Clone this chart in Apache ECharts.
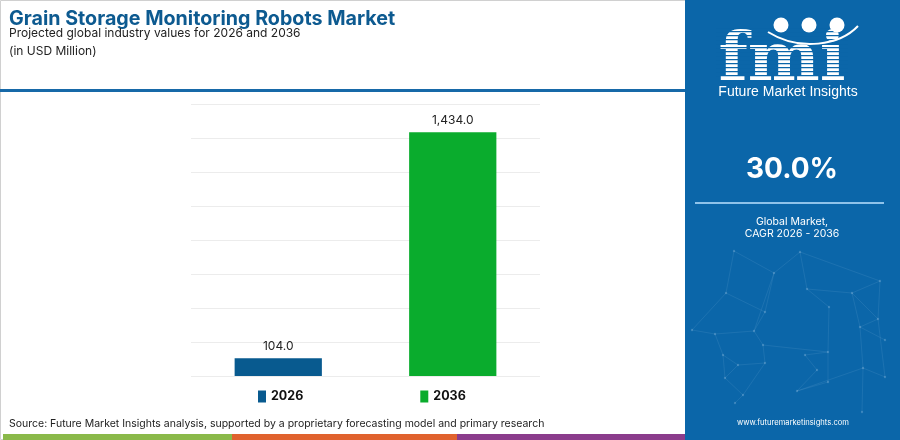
<!DOCTYPE html>
<html>
<head>
<meta charset="utf-8">
<script src="https://cdn.jsdelivr.net/npm/echarts@6/dist/echarts.min.js"></script>
<style>html,body{margin:0;padding:0;background:#fff}#c{width:900px;height:440px}</style>
</head>
<body>
<div id="c"></div>
<script>
const categories = ['2026', '2036'];
const values2026 = [104.0, '-'];
const values2036 = ['-', 1434.0];
const seriesNames = ['2026', '2036'];
const yTicks = {min: 0, max: 1600, interval: 200};

const FONT = 'Inter, "Noto Sans", sans-serif';
const PANEL = '#0b66a9';

const chart = echarts.init(document.getElementById('c'), null, {renderer: 'canvas'});

// decorative logo stripes
const stripes = [];
for (let y = 27; y < 78; y += 4) {
  stripes.push({type: 'rect', shape: {x: 716, y: y, width: 132, height: 1.3}, style: {fill: PANEL}, z: 12});
}
// decorative faint network in panel background
const netNodes = [[734,251],[800,252],[774,273],[880,281],[726,293],[807,289],[852,293],[765,312],[829,307],[878,319],
  [692,330],[715,334],[754,331],[860,327],[885,340],[763,345],[828,352],[723,355],[805,355],[738,365],[765,363],
  [863,368],[817,370],[725,378],[828,382],[885,377],[743,395],[797,391],[735,403],[862,412]];
const netEdges = [[0,4],[0,2],[1,2],[1,3],[2,7],[1,5],[5,6],[6,3],[4,7],[7,12],[2,12],[5,8],[8,16],[6,9],[9,13],[13,14],
  [10,11],[11,12],[12,15],[15,16],[11,17],[17,19],[19,20],[20,15],[18,16],[18,22],[16,24],[13,21],[21,27],[21,25],
  [17,23],[23,26],[26,28],[20,26],[22,27],[24,27],[9,25],[4,10],[3,9],[6,13],[19,23],[29,21]];
const net = netEdges.map(([a, b]) => ({type: 'line', shape: {x1: netNodes[a][0], y1: netNodes[a][1], x2: netNodes[b][0], y2: netNodes[b][1]},
  style: {stroke: 'rgba(170,210,240,0.14)', lineWidth: 0.8}, z: 11}));
const netDots = netNodes.map(([x, y]) => ({type: 'circle', shape: {cx: x, cy: y, r: 1.2}, style: {fill: 'rgba(190,220,245,0.25)'}, z: 11}));

chart.setOption({
  animation: false,
  grid: {left: 191, right: 360, top: 104, bottom: 64},
  xAxis: {
    type: 'category', data: categories,
    axisLine: {show: false}, axisTick: {show: false}, axisLabel: {show: false}
  },
  yAxis: {
    type: 'value', min: yTicks.min, max: yTicks.max, interval: yTicks.interval,
    axisLabel: {show: false}, axisLine: {show: false}, axisTick: {show: false},
    splitLine: {lineStyle: {color: '#ececec', width: 1}}
  },
  legend: {
    data: seriesNames, left: 258, top: 390, padding: 0, itemWidth: 8, itemHeight: 12, itemGap: 117,
    icon: 'rect',
    textStyle: {fontFamily: FONT, fontWeight: 'bold', fontSize: 12.5, color: '#111'}
  },
  series: [
    {
      name: seriesNames[0], type: 'bar', data: values2026, barWidth: '50%', barGap: '-100%',
      itemStyle: {color: '#085a8f'},
      label: {show: true, position: 'top', distance: 6, fontFamily: FONT, fontSize: 12, color: '#222',
        formatter: p => p.value.toLocaleString('en-US', {minimumFractionDigits: 1, maximumFractionDigits: 1})}
    },
    {
      name: seriesNames[1], type: 'bar', data: values2036, barWidth: '50%', barGap: '-100%',
      itemStyle: {color: '#0aac2d'},
      label: {show: true, position: 'top', distance: 6, fontFamily: FONT, fontSize: 12, color: '#222',
        formatter: p => p.value.toLocaleString('en-US', {minimumFractionDigits: 1, maximumFractionDigits: 1})}
    }
  ],
  graphic: [
    {type: 'rect', shape: {x: 0.5, y: 0.5, width: 685, height: 439}, style: {fill: 'none', stroke: '#d0d0d0', lineWidth: 1}, z: -1},
    {type: 'text', left: 9, top: 9, style: {text: 'Grain Storage Monitoring Robots Market', fontFamily: FONT, fontWeight: 'bold', fontSize: 19.7, fill: '#0d5a90'}},
    {type: 'text', left: 9, top: 27, style: {text: 'Projected global industry values for 2026 and 2036', fontFamily: FONT, fontSize: 12, fill: '#222'}},
    {type: 'text', left: 9, top: 45, style: {text: '(in USD Million)', fontFamily: FONT, fontSize: 12, fill: '#222'}},
    {type: 'rect', shape: {x: 0, y: 89, width: 686, height: 3}, style: {fill: '#1769a8'}},
    {type: 'text', left: 9, top: 418, style: {text: 'Source: Future Market Insights analysis, supported by a proprietary forecasting model and primary research', fontFamily: FONT, fontSize: 10.5, fill: '#222'}},
    {type: 'rect', shape: {x: 3, y: 434, width: 229, height: 6}, style: {fill: '#8ab94a'}},
    {type: 'rect', shape: {x: 232, y: 434, width: 225, height: 6}, style: {fill: '#e0622e'}},
    {type: 'rect', shape: {x: 457, y: 434, width: 228, height: 6}, style: {fill: '#8b3c8c'}},
    // right panel
    {type: 'rect', shape: {x: 685, y: 0, width: 215, height: 440}, style: {fill: PANEL}, z: 10},
    ...net,
    ...netDots,
    {type: 'text', x: 782, y: 62, style: {text: 'fmi', fontFamily: '"DejaVu Serif", serif', fontWeight: 'bold', fontSize: 68, fill: '#fff', align: 'center', verticalAlign: 'middle'}, z: 11},
    ...stripes,
    {type: 'circle', shape: {cx: 781, cy: 25, r: 7.5}, style: {fill: '#fff'}, z: 13},
    {type: 'circle', shape: {cx: 809, cy: 25, r: 7.5}, style: {fill: '#fff'}, z: 13},
    {type: 'circle', shape: {cx: 837, cy: 25, r: 7.5}, style: {fill: '#fff'}, z: 13},
    {type: 'bezierCurve', shape: {x1: 768, y1: 32, x2: 858, y2: 26, cpx1: 800, cpy1: 52, cpx2: 840, cpy2: 45}, style: {stroke: '#fff', lineWidth: 2, fill: 'none'}, z: 13},
    {type: 'text', x: 788, y: 92, style: {text: 'Future Market Insights', fontFamily: '"Liberation Sans Narrow", "Liberation Sans", sans-serif', fontSize: 14, fill: '#fff', align: 'center', verticalAlign: 'middle'}, z: 13},
    {type: 'text', x: 792, y: 170, style: {text: '30.0%', fontFamily: FONT, fontWeight: 'bold', fontSize: 28, fill: '#fff', align: 'center', verticalAlign: 'middle'}, z: 13},
    {type: 'rect', shape: {x: 695, y: 202, width: 189, height: 2}, style: {fill: '#8fc3ea'}, z: 13},
    {type: 'text', x: 792, y: 222, style: {text: 'Global Market,', fontFamily: FONT, fontSize: 10.5, fill: '#fff', align: 'center', verticalAlign: 'middle'}, z: 13},
    {type: 'text', x: 792, y: 234, style: {text: 'CAGR 2026 - 2036', fontFamily: FONT, fontSize: 10.5, fill: '#fff', align: 'center', verticalAlign: 'middle'}, z: 13},
    {type: 'text', x: 793, y: 423, style: {text: 'www.futuremarketinsights.com', fontFamily: FONT, fontSize: 7.6, fill: '#fff', align: 'center', verticalAlign: 'middle'}, z: 13}
  ]
});
</script>
</body>
</html>
